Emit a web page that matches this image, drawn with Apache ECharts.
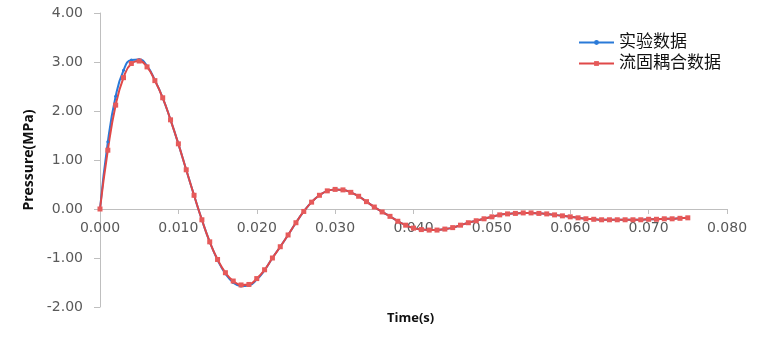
<!DOCTYPE html>
<html><head><meta charset="utf-8">
<script src="https://cdn.jsdelivr.net/npm/echarts@6/dist/echarts.min.js"></script>
<style>html,body{margin:0;padding:0;background:#fff}#c{width:771px;height:339px}</style>
</head><body><div id="c"></div>
<script>
const times = [];
for (let i = 0; i <= 75; i++) times.push(i / 1000);
const simValues = [0, 1.2, 2.12, 2.68, 2.97, 3.02, 2.9, 2.62, 2.27, 1.82,
  1.33, 0.8, 0.28, -0.22, -0.67, -1.03, -1.3, -1.47, -1.55, -1.54,
  -1.42, -1.24, -1.0, -0.77, -0.53, -0.28, -0.05, 0.14, 0.28, 0.37,
  0.4, 0.39, 0.34, 0.26, 0.15, 0.04, -0.06, -0.15, -0.25, -0.33,
  -0.39, -0.42, -0.43, -0.43, -0.41, -0.38, -0.33, -0.28, -0.24, -0.2,
  -0.16, -0.12, -0.1, -0.09, -0.08, -0.08, -0.09, -0.1, -0.12, -0.14,
  -0.16, -0.18, -0.2, -0.21, -0.22, -0.22, -0.22, -0.22, -0.22, -0.22,
  -0.21, -0.21, -0.2, -0.2, -0.19, -0.18];
const expValues = [0, 1.37, 2.3, 2.83, 3.04, 3.05, 2.92, 2.63, 2.27, 1.82,
  1.33, 0.8, 0.28, -0.22, -0.67, -1.04, -1.32, -1.5, -1.57, -1.56,
  -1.44, -1.25, -1.0, -0.77, -0.53, -0.28, -0.05, 0.14, 0.28, 0.37,
  0.4, 0.39, 0.34, 0.26, 0.15, 0.04, -0.06, -0.15, -0.25, -0.33,
  -0.39, -0.42, -0.43, -0.43, -0.41, -0.38, -0.33, -0.28, -0.24, -0.2,
  -0.16, -0.12, -0.1, -0.09, -0.08, -0.08, -0.09, -0.1, -0.12, -0.14,
  -0.16, -0.18, -0.2, -0.21, -0.22, -0.22, -0.22, -0.22, -0.22, -0.22,
  -0.21, -0.21, -0.2, -0.2, -0.19, -0.18];
const seriesNames = ['实验数据', '流固耦合数据'];
const xAxisTitle = 'Time(s)';
const yAxisTitle = 'Pressure(MPa)';
const xTickFmt = v => v.toFixed(3);
const yTickFmt = v => v.toFixed(2);

const chart = echarts.init(document.getElementById('c'));
const font = '"Open Sans", "Noto Sans CJK SC", sans-serif';
const tickFont = '"DejaVu Sans", sans-serif';
chart.setOption({
  animation: false,
  textStyle: { fontFamily: font },
  grid: { left: 100, right: 44, top: 13, bottom: 32, containLabel: false, outerBoundsMode: 'none' },
  legend: {
    orient: 'vertical', left: 573, top: 29, itemGap: 4,
    itemWidth: 35, itemHeight: 6,
    textStyle: { fontSize: 17, color: '#111', fontFamily: font },
    data: seriesNames
  },
  graphic: [{
    type: 'text', left: 387, top: 312,
    style: { text: xAxisTitle, font: 'bold 13px ' + font, fill: '#111' }
  }],
  xAxis: {
    type: 'value', min: 0, max: 0.08, interval: 0.01,
    offset: -98,
    axisLine: { onZero: false, lineStyle: { color: '#bfbfbf' } },
    axisTick: { show: true, length: 5, lineStyle: { color: '#bfbfbf' } },
    axisLabel: { formatter: xTickFmt, fontSize: 14, color: '#595959', margin: 12, fontFamily: tickFont },
    splitLine: { show: false }
  },
  yAxis: {
    type: 'value', min: -2, max: 4, interval: 1,
    name: yAxisTitle, nameLocation: 'middle', nameGap: 62,
    nameTextStyle: { fontSize: 14, fontWeight: 'bold', color: '#111' },
    axisLine: { show: true, lineStyle: { color: '#bfbfbf' } },
    axisTick: { show: true, length: 6, lineStyle: { color: '#bfbfbf' } },
    axisLabel: { formatter: yTickFmt, fontSize: 14, color: '#595959', margin: 17, fontFamily: tickFont },
    splitLine: { show: false }
  },
  series: [
    {
      name: seriesNames[0], type: 'line', smooth: true,
      data: times.map((t, i) => [t, expValues[i]]),
      symbol: 'circle', symbolSize: 3,
      lineStyle: { color: '#2a7ad8', width: 2 },
      itemStyle: { color: '#2a7ad8' }
    },
    {
      name: seriesNames[1], type: 'line', smooth: true,
      data: times.map((t, i) => [t, simValues[i]]),
      symbol: 'rect', symbolSize: 5,
      lineStyle: { color: '#e04848', width: 2 },
      itemStyle: { color: '#e65a5a' }
    }
  ]
});
</script></body></html>
